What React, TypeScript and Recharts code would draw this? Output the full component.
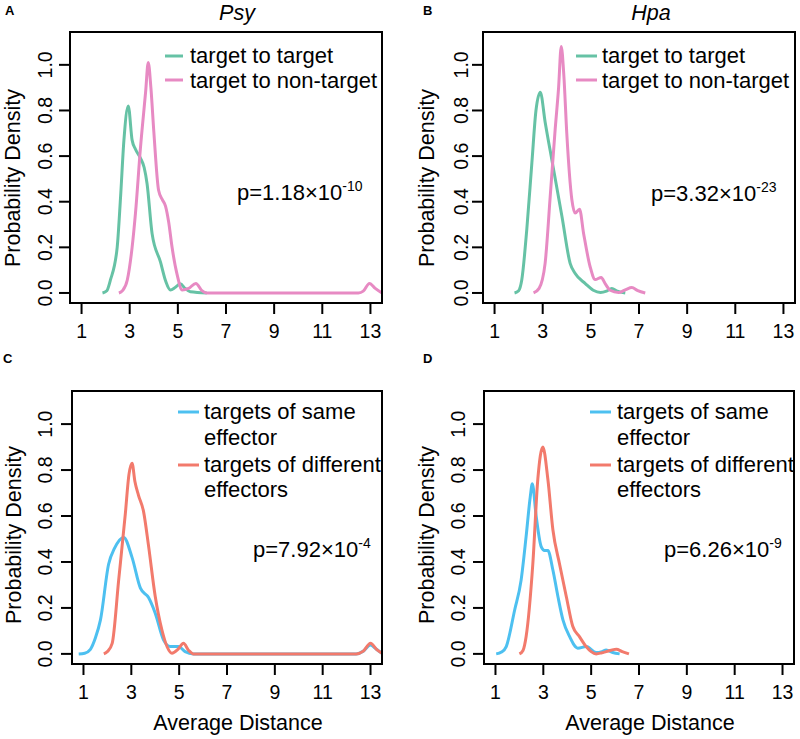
import React from "react";
import { LineChart, Line, XAxis, YAxis } from "recharts";

type Pt = { x: number; y: number };
const pts = (a: number[][]): Pt[] => a.map(([x, y]) => ({ x, y }));

const FONT = '"Liberation Sans", Arial, Helvetica, sans-serif';

const xTicks = [1, 3, 5, 7, 9, 11, 13];
const yTicks = [0, 0.2, 0.4, 0.6, 0.8, 1.0];
const xDomain: [number, number] = [0.52, 13.48];
const yDomain: [number, number] = [-0.044, 1.144];

const green = "#66C2A5";
const pink = "#E78AC3";
const blue = "#4DC0F0";
const red = "#F27A6C";

// Psy: target to target / target to non-target
const psyTargetToTarget = pts([
  [1.87, 0], [2.05, 0.01], [2.2, 0.057], [2.48, 0.2], [2.62, 0.42], [2.76, 0.67],
  [2.94, 0.82], [3.1, 0.67], [3.24, 0.63], [3.45, 0.59], [3.6, 0.55], [3.72, 0.48],
  [3.93, 0.26], [4.28, 0.135], [4.5, 0.05], [4.69, 0.013], [4.9, 0.025], [5.1, 0.04],
  [5.3, 0.02], [5.52, 0.005], [6.2, 0],
]);
const psyTargetToNonTarget = pts([
  [2.55, 0], [2.7, 0.01], [2.9, 0.057], [3.1, 0.2], [3.24, 0.35], [3.45, 0.64],
  [3.66, 0.88], [3.77, 1.01], [3.88, 0.9], [4.0, 0.71], [4.2, 0.45], [4.35, 0.41],
  [4.49, 0.38], [4.62, 0.31], [4.76, 0.2], [4.97, 0.08], [5.18, 0.013], [5.45, 0.02],
  [5.75, 0.042], [6.0, 0.01], [6.2, 0], [12.5, 0], [12.7, 0.008], [12.96, 0.042],
  [13.2, 0.02], [13.48, 0],
]);

// Hpa: target to target / target to non-target
const hpaTargetToTarget = pts([
  [1.83, 0], [2.0, 0.01], [2.13, 0.057], [2.34, 0.28], [2.55, 0.57], [2.72, 0.8],
  [2.9, 0.88], [3.1, 0.75], [3.42, 0.56], [3.8, 0.335], [4.14, 0.13], [4.35, 0.085],
  [4.77, 0.041], [5.1, 0.012], [5.4, 0.002], [5.65, 0.008], [5.87, 0.02], [6.1, 0.008],
  [6.43, 0],
]);
const hpaTargetToNonTarget = pts([
  [2.62, 0], [2.85, 0.02], [3.1, 0.13], [3.31, 0.42], [3.52, 0.72], [3.66, 0.9],
  [3.77, 1.08], [3.88, 0.95], [4.0, 0.7], [4.21, 0.41], [4.35, 0.35], [4.53, 0.367],
  [4.7, 0.26], [4.97, 0.115], [5.18, 0.059], [5.43, 0.068], [5.6, 0.04], [5.8, 0.012],
  [6.15, 0.002], [6.45, 0.015], [6.7, 0.024], [6.95, 0.01], [7.26, 0],
]);

// Psy: targets of same effector / targets of different effectors
const psySameEffector = pts([
  [0.8, 0], [1.05, 0.003], [1.29, 0.02], [1.5, 0.07], [1.71, 0.148], [2.05, 0.39],
  [2.3, 0.46], [2.68, 0.507], [3.03, 0.42], [3.38, 0.286], [3.72, 0.245], [4.0, 0.177],
  [4.35, 0.06], [4.63, 0.032], [4.97, 0.032], [5.25, 0.01], [5.6, 0], [12.4, 0],
  [12.7, 0.012], [12.99, 0.039], [13.25, 0.02], [13.48, 0.002],
]);
const psyDiffEffectors = pts([
  [1.85, 0], [2.0, 0.01], [2.2, 0.046], [2.47, 0.32], [2.75, 0.61], [2.9, 0.78],
  [3.03, 0.83], [3.15, 0.75], [3.3, 0.69], [3.51, 0.62], [3.72, 0.47], [4.0, 0.25],
  [4.28, 0.104], [4.5, 0.03], [4.7, 0.003], [4.95, 0.02], [5.18, 0.046], [5.4, 0.015],
  [5.6, 0], [12.4, 0], [12.7, 0.012], [13.0, 0.046], [13.25, 0.02], [13.48, 0.003],
]);

// Hpa: targets of same effector / targets of different effectors
const hpaSameEffector = pts([
  [1.03, 0], [1.25, 0.008], [1.45, 0.032], [1.8, 0.19], [2.07, 0.32], [2.28, 0.51],
  [2.45, 0.68], [2.54, 0.74], [2.7, 0.6], [2.91, 0.467], [3.05, 0.45], [3.19, 0.45],
  [3.4, 0.365], [3.61, 0.25], [3.82, 0.148], [4.1, 0.075], [4.44, 0.025], [4.8, 0.032],
  [5.21, 0.006], [5.45, 0.01], [5.63, 0.017], [5.9, 0.006], [6.19, 0],
]);
const hpaDiffEffectors = pts([
  [2.0, 0], [2.15, 0.015], [2.28, 0.075], [2.56, 0.39], [2.77, 0.76], [2.98, 0.9],
  [3.19, 0.76], [3.4, 0.54], [3.68, 0.39], [3.96, 0.25], [4.23, 0.12], [4.51, 0.075],
  [4.79, 0.032], [5.0, 0.01], [5.21, 0], [5.45, 0.005], [5.63, 0.01], [6.05, 0.02],
  [6.3, 0.01], [6.58, 0],
]);

interface Series {
  data: Pt[];
  color: string;
}

interface PanelLayout {
  left: number;
  top: number;
  height: number;
  marginTop: number;
  marginRight: number;
  yAxisWidth: number;
  xAxisHeight: number;
  yLabelX: number;
}

const W = 400;

const layoutA: PanelLayout = { left: 0, top: 0, height: 350, marginTop: 32, marginRight: 18, yAxisWidth: 70, xAxisHeight: 47, yLabelX: 52 };
const layoutB: PanelLayout = { left: 400, top: 0, height: 350, marginTop: 32, marginRight: 5, yAxisWidth: 83, xAxisHeight: 47, yLabelX: 68 };
const layoutC: PanelLayout = { left: 0, top: 360, height: 350, marginTop: 31, marginRight: 18, yAxisWidth: 72, xAxisHeight: 46, yLabelX: 52 };
const layoutD: PanelLayout = { left: 400, top: 360, height: 350, marginTop: 31, marginRight: 6, yAxisWidth: 84, xAxisHeight: 46, yLabelX: 65 };

const frameLine = { stroke: "#000", strokeWidth: 2 };

const XTick = (props: any) => (
  <text
    x={props.x}
    y={props.y + 22}
    textAnchor="middle"
    fontSize={19.5}
    fontFamily={FONT}
    fill="#000"
  >
    {props.payload.value}
  </text>
);

const makeYTick = (bx: number) => (props: any) => (
  <text
    x={bx}
    y={props.y}
    transform={`rotate(-90 ${bx} ${props.y})`}
    textAnchor="middle"
    fontSize={19.5}
    fontFamily={FONT}
    fill="#000"
  >
    {Number(props.payload.value).toFixed(1)}
  </text>
);

function Panel({ layout, series }: { layout: PanelLayout; series: Series[] }) {
  const { left, top, height, marginTop, marginRight, yAxisWidth, xAxisHeight, yLabelX } = layout;
  return (
    <div style={{ position: "absolute", left, top, width: W, height }}>
      <LineChart
        width={W}
        height={height}
        margin={{ top: marginTop, right: marginRight, bottom: 0, left: 0 }}
      >
        <XAxis
          dataKey="x"
          type="number"
          domain={xDomain}
          ticks={xTicks}
          allowDataOverflow
          axisLine={frameLine}
          tickLine={frameLine}
          tickSize={11}
          height={xAxisHeight}
          tick={<XTick />}
        />
        <YAxis
          type="number"
          domain={yDomain}
          ticks={yTicks}
          allowDataOverflow
          axisLine={frameLine}
          tickLine={frameLine}
          tickSize={11}
          width={yAxisWidth}
          tick={makeYTick(yLabelX)}
        />
        {series.map((s, i) => (
          <Line
            key={i}
            data={s.data}
            dataKey="y"
            type="monotone"
            stroke={s.color}
            strokeWidth={3}
            dot={false}
            activeDot={false}
            isAnimationActive={false}
          />
        ))}
      </LineChart>
    </div>
  );
}

// plot frame as four thin filled bars, in page coordinates from the layout
function Frame({ layout }: { layout: PanelLayout }) {
  const x0 = layout.left + layout.yAxisWidth - 1;
  const y0 = layout.top + layout.marginTop - 1;
  const x1 = layout.left + W - layout.marginRight + 1;
  const y1 = layout.top + layout.height - layout.xAxisHeight + 1;
  return (
    <g>
      <rect x={x0} y={y0} width={x1 - x0} height={2} fill="#000" />
      <rect x={x0} y={y1 - 2} width={x1 - x0} height={2} fill="#000" />
      <rect x={x0} y={y0} width={2} height={y1 - y0} fill="#000" />
      <rect x={x1 - 2} y={y0} width={2} height={y1 - y0} fill="#000" />
    </g>
  );
}

const txt = { fontFamily: FONT, fill: "#000" };

function LegendRow({ x1, x2, y, color }: { x1: number; x2: number; y: number; color: string }) {
  return <line x1={x1} x2={x2} y1={y} y2={y} stroke={color} strokeWidth={3} />;
}

function PValue({ x, y, base, exp }: { x: number; y: number; base: string; exp: string }) {
  return (
    <text x={x} y={y} fontSize={22} {...txt}>
      {`p=${base}×10`}
      <tspan fontSize={14} dy={-9}>
        {exp}
      </tspan>
    </text>
  );
}

function YTitle({ x, y }: { x: number; y: number }) {
  return (
    <text
      x={x}
      y={y}
      transform={`rotate(-90 ${x} ${y})`}
      textAnchor="middle"
      fontSize={21.5}
      {...txt}
    >
      Probability Density
    </text>
  );
}

export default function App() {
  return (
    <div
      style={{
        position: "absolute",
        left: 0,
        top: 0,
        width: 800,
        height: 739,
        background: "#fff",
        overflow: "hidden",
      }}
    >
      <Panel
        layout={layoutA}
        series={[
          { data: psyTargetToTarget, color: green },
          { data: psyTargetToNonTarget, color: pink },
        ]}
      />
      <Panel
        layout={layoutB}
        series={[
          { data: hpaTargetToTarget, color: green },
          { data: hpaTargetToNonTarget, color: pink },
        ]}
      />
      <Panel
        layout={layoutC}
        series={[
          { data: psySameEffector, color: blue },
          { data: psyDiffEffectors, color: red },
        ]}
      />
      <Panel
        layout={layoutD}
        series={[
          { data: hpaSameEffector, color: blue },
          { data: hpaDiffEffectors, color: red },
        ]}
      />
      <svg
        width={800}
        height={739}
        style={{ position: "absolute", left: 0, top: 0, pointerEvents: "none" }}
      >
        <Frame layout={layoutA} />
        <Frame layout={layoutB} />
        <Frame layout={layoutC} />
        <Frame layout={layoutD} />

        {/* panel letters */}
        <text x={5} y={15} fontSize={13} fontWeight="bold" {...txt}>A</text>
        <text x={423} y={15} fontSize={13} fontWeight="bold" {...txt}>B</text>
        <text x={3} y={363} fontSize={13} fontWeight="bold" {...txt}>C</text>
        <text x={423} y={363} fontSize={13} fontWeight="bold" {...txt}>D</text>

        {/* titles */}
        <text x={237} y={20} fontSize={21.5} fontStyle="italic" textAnchor="middle" {...txt}>Psy</text>
        <text x={651} y={20} fontSize={21.5} fontStyle="italic" textAnchor="middle" {...txt}>Hpa</text>

        {/* y titles */}
        <YTitle x={20} y={178} />
        <YTitle x={434} y={178} />
        <YTitle x={21} y={535} />
        <YTitle x={434} y={535} />

        {/* x titles */}
        <text x={238} y={730} fontSize={21.5} textAnchor="middle" {...txt}>Average Distance</text>
        <text x={650} y={730} fontSize={21.5} textAnchor="middle" {...txt}>Average Distance</text>

        {/* legend A */}
        <LegendRow x1={165} x2={183} y={56} color={green} />
        <LegendRow x1={165} x2={183} y={80} color={pink} />
        <text x={190} y={63} fontSize={22} {...txt}>target to target</text>
        <text x={190} y={88} fontSize={22} {...txt}>target to non-target</text>

        {/* legend B */}
        <LegendRow x1={576} x2={597} y={56} color={green} />
        <LegendRow x1={576} x2={597} y={80} color={pink} />
        <text x={602} y={63} fontSize={22} {...txt}>target to target</text>
        <text x={602} y={88} fontSize={22} {...txt}>target to non-target</text>

        {/* legend C */}
        <LegendRow x1={178} x2={199} y={412} color={blue} />
        <LegendRow x1={178} x2={199} y={465} color={red} />
        <text x={204} y={419} fontSize={22} {...txt}>targets of same</text>
        <text x={204} y={445} fontSize={22} {...txt}>effector</text>
        <text x={204} y={472} fontSize={22} {...txt}>targets of different</text>
        <text x={204} y={497} fontSize={22} {...txt}>effectors</text>

        {/* legend D */}
        <LegendRow x1={590} x2={611} y={412} color={blue} />
        <LegendRow x1={590} x2={611} y={465} color={red} />
        <text x={617} y={419} fontSize={22} {...txt}>targets of same</text>
        <text x={617} y={445} fontSize={22} {...txt}>effector</text>
        <text x={617} y={472} fontSize={22} {...txt}>targets of different</text>
        <text x={617} y={497} fontSize={22} {...txt}>effectors</text>

        {/* p-values */}
        <PValue x={237} y={200} base="1.18" exp="-10" />
        <PValue x={651} y={201} base="3.32" exp="-23" />
        <PValue x={253} y={557} base="7.92" exp="-4" />
        <PValue x={664} y={557} base="6.26" exp="-9" />
      </svg>
    </div>
  );
}
